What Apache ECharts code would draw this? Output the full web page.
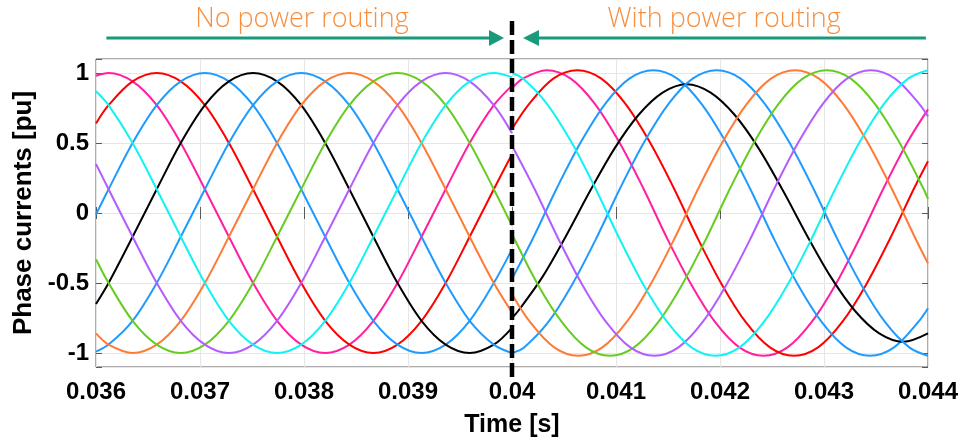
<!DOCTYPE html>
<html><head><meta charset="utf-8">
<script src="https://cdn.jsdelivr.net/npm/echarts@6/dist/echarts.min.js"></script>
<style>html,body{margin:0;padding:0;background:#fff}#c{width:966px;height:443px}</style>
</head><body><div id="c"></div>
<script>
// ---- data ----
// before the switching instant (0.036 s .. 0.040 s), common time samples
const preTime = [0.036, 0.036121, 0.036352, 0.036584, 0.036815, 0.037047, 0.037278, 0.037510, 0.037741, 0.037973, 0.038204, 0.038436, 0.038667, 0.038899, 0.039130, 0.039362, 0.039593, 0.039825, 0.040];
const prePink   = [0.98, 1, 0.94, 0.77, 0.5, 0.17, -0.17, -0.5, -0.77, -0.94, -1, -0.94, -0.77, -0.5, -0.17, 0.17, 0.5, 0.77, 0.91];
const preRed    = [0.64, 0.77, 0.94, 1, 0.94, 0.77, 0.5, 0.17, -0.17, -0.5, -0.77, -0.94, -1, -0.94, -0.77, -0.5, -0.17, 0.17, 0.42];
const preBlue1  = [-0.01, 0.17, 0.5, 0.77, 0.94, 1, 0.94, 0.77, 0.5, 0.17, -0.17, -0.5, -0.77, -0.94, -1, -0.94, -0.77, -0.5, -0.26];
const preBlack  = [-0.65, -0.5, -0.17, 0.17, 0.5, 0.77, 0.94, 1, 0.94, 0.77, 0.5, 0.17, -0.17, -0.5, -0.77, -0.94, -1, -0.94, -0.82];
const preBlue2  = [-0.99, -0.94, -0.77, -0.5, -0.17, 0.17, 0.5, 0.77, 0.94, 1, 0.94, 0.77, 0.5, 0.17, -0.17, -0.5, -0.77, -0.94, -1];
const preOrange = [-0.86, -0.94, -1, -0.94, -0.77, -0.5, -0.17, 0.17, 0.5, 0.77, 0.94, 1, 0.94, 0.77, 0.5, 0.17, -0.17, -0.5, -0.71];
const preGreen  = [-0.33, -0.5, -0.77, -0.94, -1, -0.94, -0.77, -0.5, -0.17, 0.17, 0.5, 0.77, 0.94, 1, 0.94, 0.77, 0.5, 0.17, -0.09];
const prePurple = [0.35, 0.17, -0.17, -0.5, -0.77, -0.94, -1, -0.94, -0.77, -0.5, -0.17, 0.17, 0.5, 0.77, 0.94, 1, 0.94, 0.77, 0.57];
const preCyan   = [0.87, 0.77, 0.5, 0.17, -0.17, -0.5, -0.77, -0.94, -1, -0.94, -0.77, -0.5, -0.17, 0.17, 0.5, 0.77, 0.94, 1, 0.97];

// after the switching instant (0.040 s .. 0.044 s), samples per phase (peaks/troughs)
const postTimePink   = [0.04, 0.040103, 0.040334, 0.040565, 0.040797, 0.041028, 0.04126, 0.041491, 0.041723, 0.041954, 0.042186, 0.042417, 0.042649, 0.04288, 0.043112, 0.043343, 0.043575, 0.043806, 0.044];
const postPink       = [0.89, 0.96, 1.02, 0.96, 0.78, 0.51, 0.18, -0.18, -0.51, -0.78, -0.96, -1.02, -0.96, -0.78, -0.51, -0.18, 0.18, 0.51, 0.74];
const postTimeRed    = [0.04, 0.040165, 0.040397, 0.040628, 0.040859, 0.041091, 0.041322, 0.041554, 0.041785, 0.042017, 0.042248, 0.04248, 0.042711, 0.042943, 0.043174, 0.043406, 0.043637, 0.043869, 0.044];
const postRed        = [0.60, 0.78, 0.96, 1.02, 0.96, 0.78, 0.51, 0.18, -0.18, -0.51, -0.78, -0.96, -1.02, -0.96, -0.78, -0.51, -0.18, 0.18, 0.37];
const postTimeBlue1  = [0.04, 0.040202, 0.040433, 0.040665, 0.040896, 0.041128, 0.041359, 0.04159, 0.041822, 0.042053, 0.042285, 0.042516, 0.042748, 0.042979, 0.043211, 0.043442, 0.043674, 0.043905, 0.044];
const postBlue1      = [-0.47, -0.18, 0.18, 0.51, 0.78, 0.96, 1.02, 0.96, 0.78, 0.51, 0.18, -0.18, -0.51, -0.78, -0.96, -1.02, -0.96, -0.78, -0.68];
const postTimeBlack  = [0.04, 0.040059, 0.04029, 0.040522, 0.040753, 0.040985, 0.041216, 0.041448, 0.041679, 0.04191, 0.042142, 0.042373, 0.042605, 0.042836, 0.043068, 0.043299, 0.043531, 0.043762, 0.044];
const postBlack      = [-0.75, -0.70, -0.46, -0.16, 0.16, 0.46, 0.70, 0.86, 0.92, 0.86, 0.70, 0.46, 0.16, -0.16, -0.46, -0.70, -0.86, -0.92, -0.86];
const postTimeBlue2  = [0.04, 0.040116, 0.040348, 0.040579, 0.040811, 0.041042, 0.041274, 0.041505, 0.041737, 0.041968, 0.042199, 0.042431, 0.042662, 0.042894, 0.043125, 0.043357, 0.043588, 0.04382, 0.044];
const postBlue2      = [-1.00, -0.96, -0.78, -0.51, -0.18, 0.18, 0.51, 0.78, 0.96, 1.02, 0.96, 0.78, 0.51, 0.18, -0.18, -0.51, -0.78, -0.96, -1.02];
const postTimeOrange = [0.04, 0.040175, 0.040406, 0.040638, 0.040869, 0.041101, 0.041332, 0.041564, 0.041795, 0.042027, 0.042258, 0.04249, 0.042721, 0.042952, 0.043184, 0.043415, 0.043647, 0.043878, 0.044];
const postOrange     = [-0.58, -0.78, -0.96, -1.02, -0.96, -0.78, -0.51, -0.18, 0.18, 0.51, 0.78, 0.96, 1.02, 0.96, 0.78, 0.51, 0.18, -0.18, -0.36];
const postTimeGreen  = [0.04, 0.040248, 0.04048, 0.040711, 0.040943, 0.041174, 0.041406, 0.041637, 0.041869, 0.0421, 0.042332, 0.042563, 0.042795, 0.043026, 0.043257, 0.043489, 0.04372, 0.043952, 0.044];
const postGreen      = [-0.15, -0.51, -0.78, -0.96, -1.02, -0.96, -0.78, -0.51, -0.18, 0.18, 0.51, 0.78, 0.96, 1.02, 0.96, 0.78, 0.51, 0.18, 0.10];
const postTimePurple = [0.04, 0.040211, 0.040443, 0.040674, 0.040906, 0.041137, 0.041369, 0.0416, 0.041832, 0.042063, 0.042295, 0.042526, 0.042758, 0.042989, 0.043221, 0.043452, 0.043683, 0.043915, 0.044];
const postPurple     = [0.48, 0.18, -0.18, -0.51, -0.78, -0.96, -1.02, -0.96, -0.78, -0.51, -0.18, 0.18, 0.51, 0.78, 0.96, 1.02, 0.96, 0.78, 0.69];
const postTimeCyan   = [0.04, 0.040105, 0.040336, 0.040568, 0.040799, 0.041031, 0.041262, 0.041494, 0.041725, 0.041957, 0.042188, 0.04242, 0.042651, 0.042883, 0.043114, 0.043346, 0.043577, 0.043809, 0.044];
const postCyan       = [1.00, 0.96, 0.78, 0.51, 0.18, -0.18, -0.51, -0.78, -0.96, -1.02, -0.96, -0.78, -0.51, -0.18, 0.18, 0.51, 0.78, 0.96, 1.02];

const switchTime = 0.04;
const leftLabel = 'No power routing';
const rightLabel = 'With power routing';
const xName = 'Time [s]';
const yName = 'Phase currents [pu]';

// ---- styles ----
const preSets  = [prePink, preRed, preBlue1, preBlack, preBlue2, preOrange, preGreen, prePurple, preCyan];
const postSets = [[postTimePink, postPink], [postTimeRed, postRed], [postTimeBlue1, postBlue1], [postTimeBlack, postBlack],
  [postTimeBlue2, postBlue2], [postTimeOrange, postOrange], [postTimeGreen, postGreen], [postTimePurple, postPurple], [postTimeCyan, postCyan]];
const colors = ['#ff1fa0', '#ff0000', '#1f9bff', '#000000', '#1f9bff', '#ff7a35', '#66cc22', '#b35cff', '#12f2f2'];

const series = [];
preSets.forEach((vals, i) => {
  const base = {type: 'line', smooth: 0.33, symbol: 'none', clip: true, silent: true,
    lineStyle: {color: colors[i], width: 2}, emphasis: {disabled: true}};
  const [pt, pv] = postSets[i];
  series.push(Object.assign({}, base, {data: preTime.map((t, k) => [t, vals[k]])}));
  series.push(Object.assign({}, base, {data: pt.map((t, k) => [t, pv[k]])}));
});

const labelFont = {fontFamily: 'Liberation Sans, Arial, sans-serif', fontWeight: 'bold', fontSize: 24, color: '#000'};
const frame = '#5a5a5a';
const tickStyle = {show: true, inside: true, length: 6, lineStyle: {color: frame, width: 1}};

const chart = echarts.init(document.getElementById('c'), null, {renderer: 'canvas'});
const option = {
  animation: false,
  backgroundColor: '#fff',
  grid: {left: 96, right: 38, top: 59, bottom: 76, show: true, borderColor: frame, borderWidth: 1, backgroundColor: 'transparent'},
  xAxis: [
    {type: 'value', min: 0.036, max: 0.044, interval: 0.001, position: 'bottom',
     axisLine: {show: false}, axisTick: tickStyle,
     splitLine: {show: true, lineStyle: {color: '#e6e6e6', width: 1}},
     axisLabel: Object.assign({margin: 13}, labelFont),
     name: xName, nameLocation: 'middle', nameGap: 46,
     nameTextStyle: Object.assign({}, labelFont, {fontSize: 25})},
    {type: 'value', min: 0.036, max: 0.044, interval: 0.001, position: 'top',
     axisLine: {show: false}, axisTick: tickStyle, splitLine: {show: false}, axisLabel: {show: false}}
  ],
  yAxis: [
    {type: 'value', min: -1.1, max: 1.1, minInterval: 0.5, maxInterval: 0.5, position: 'left',
     axisLine: {show: false}, axisTick: tickStyle,
     splitLine: {show: true, lineStyle: {color: '#e6e6e6', width: 1}},
     axisLabel: Object.assign({margin: 7, formatter: v => (Math.abs(v) > 1.01 ? '' : String(v))}, labelFont),
     name: yName, nameLocation: 'middle', nameGap: 56,
     nameTextStyle: Object.assign({}, labelFont, {fontSize: 26})},
    {type: 'value', min: -1.1, max: 1.1, minInterval: 0.5, maxInterval: 0.5, position: 'right',
     axisLine: {show: false}, axisTick: tickStyle, splitLine: {show: false}, axisLabel: {show: false}}
  ],
  series: series
};
chart.setOption(option);

// ---- annotations placed through the axis scales ----
const px = v => chart.convertToPixel({xAxisIndex: 0}, v);
const py = v => chart.convertToPixel({yAxisIndex: 0}, v);
const xs = px(switchTime);
const yTop = py(1.1), yBot = py(-1.1);
const ay = yTop - 21;
const teal = '#1a9a7c';
const orange = '#f78f3f';
const xL = px(0.0361), xR = px(0.04398);
const annFont = '300 27px "Open Sans", "Noto Sans", sans-serif';
chart.setOption({graphic: [
  {type: 'line', z: 100, shape: {x1: xs, y1: yTop - 38, x2: xs, y2: yBot + 10},
   style: {stroke: '#000', lineWidth: 4.5, lineDash: [14, 5]}},
  {type: 'line', z: 90, shape: {x1: xL, y1: ay, x2: xs - 20, y2: ay}, style: {stroke: teal, lineWidth: 3}},
  {type: 'polygon', z: 90, shape: {points: [[xs - 8, ay], [xs - 23, ay - 8], [xs - 23, ay + 8]]}, style: {fill: teal}},
  {type: 'line', z: 90, shape: {x1: xs + 24, y1: ay, x2: xR, y2: ay}, style: {stroke: teal, lineWidth: 3}},
  {type: 'polygon', z: 90, shape: {points: [[xs + 11, ay], [xs + 27, ay - 8], [xs + 27, ay + 8]]}, style: {fill: teal}},
  {type: 'text', z: 90, x: px(0.03798), y: yTop - 40, style: {text: leftLabel, fill: orange, font: annFont, textAlign: 'center', textVerticalAlign: 'middle'}},
  {type: 'text', z: 90, x: px(0.04204), y: yTop - 40, style: {text: rightLabel, fill: orange, font: annFont, textAlign: 'center', textVerticalAlign: 'middle'}}
]});
</script>
</body></html>
